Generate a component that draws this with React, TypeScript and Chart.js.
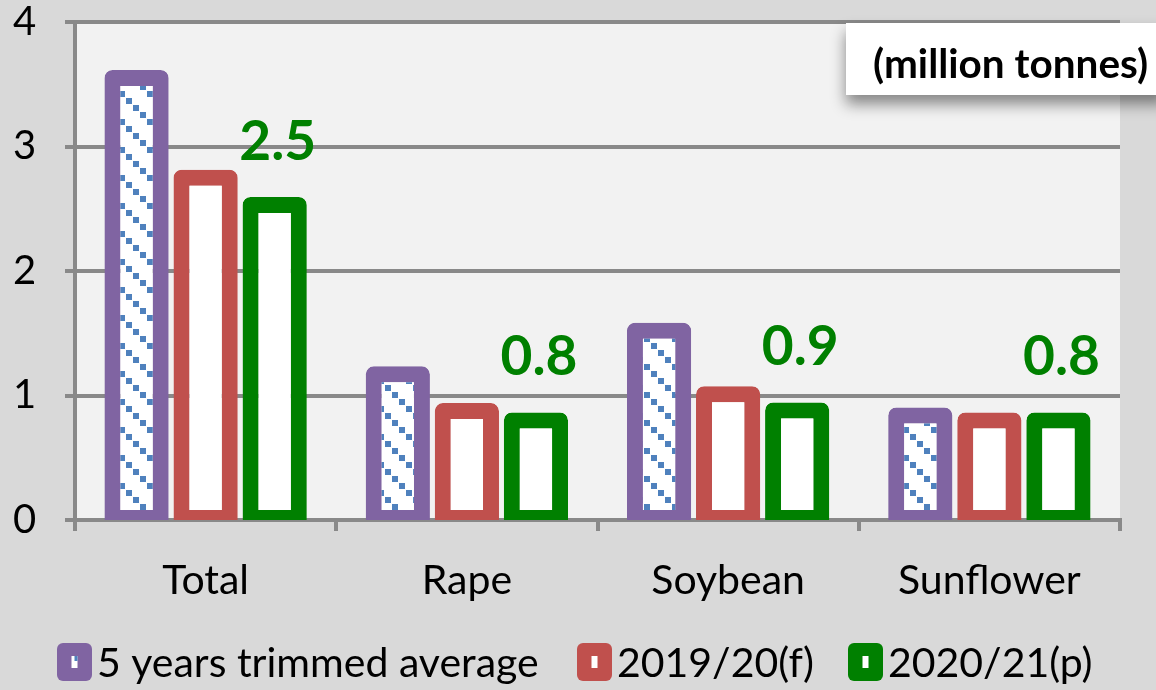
import React, { useEffect, useRef } from "react";
import { Chart, registerables } from "chart.js";

Chart.register(...registerables);

// ---- data ----
const categories = ["Total", "Rape", "Soybean", "Sunflower"];
const seriesNames = ["5 years trimmed average", "2019/20(f)", "2020/21(p)"];
const avgValues = [3.55, 1.17, 1.52, 0.84];
const f1920Values = [2.75, 0.875, 1.01, 0.8];
const p2021Values = [2.53, 0.8, 0.88, 0.8];
const yMin = 0;
const yMax = 4;
const yStep = 1;
const unitLabel = "(million tonnes)";

// ---- style ----
const PURPLE = "#8064a2";
const RED = "#c0504d";
const GREEN = "#008000";
const BLUE = "#4f81bd";
const GRID = "#898989";
const BORDER_W = 16;
const HALF = BORDER_W / 2;
const FONT = "Lato";

function makePattern(ctx: CanvasRenderingContext2D) {
  const c = document.createElement("canvas");
  c.width = 28;
  c.height = 28;
  const g = c.getContext("2d")!;
  g.fillStyle = "#ffffff";
  g.fillRect(0, 0, 28, 28);
  g.fillStyle = BLUE;
  for (let i = 0; i < 4; i++) g.fillRect(i * 7, i * 7, 6, 6);
  return ctx.createPattern(c, "repeat")!;
}

const plotBg = {
  id: "plotBg",
  beforeDraw(chart: any) {
    const { ctx, chartArea: a } = chart;
    ctx.save();
    ctx.fillStyle = "#f2f2f2";
    ctx.fillRect(a.left, a.top, a.right - a.left, a.bottom - a.top);
    ctx.restore();
  },
};

// Excel draws the outline centred on the bar edge: grow each bar by half the border
const barExpand = {
  id: "barExpand",
  afterDatasetsUpdate(chart: any) {
    chart.data.datasets.forEach((_: any, i: number) => {
      const meta = chart.getDatasetMeta(i);
      meta.data.forEach((el: any) => {
        el.y -= HALF;
        el.base += HALF;
      });
    });
  },
};

const valueLabels = {
  id: "valueLabels",
  afterDatasetsDraw(chart: any) {
    const { ctx } = chart;
    const meta = chart.getDatasetMeta(2);
    const ds = chart.data.datasets[2];
    ctx.save();
    ctx.font = `bold 55px ${FONT}`;
    ctx.fillStyle = GREEN;
    ctx.textAlign = "center";
    ctx.textBaseline = "alphabetic";
    meta.data.forEach((el: any, j: number) => {
      ctx.fillText(Number(ds.data[j]).toFixed(1), el.x + 3, el.y - 37);
    });
    ctx.restore();
  },
};

const unitBox = {
  id: "unitBox",
  afterDraw(chart: any) {
    const { ctx } = chart;
    ctx.save();
    ctx.shadowColor = "rgba(0,0,0,0.45)";
    ctx.shadowBlur = 14;
    ctx.shadowOffsetY = 9;
    ctx.shadowOffsetX = 0;
    ctx.fillStyle = "#ffffff";
    ctx.fillRect(846, 23, 320, 72);
    ctx.restore();
    ctx.save();
    ctx.font = `bold 40.5px ${FONT}`;
    ctx.fillStyle = "#000000";
    ctx.textAlign = "left";
    ctx.textBaseline = "alphabetic";
    ctx.fillText(unitLabel, 873, 78);
    ctx.restore();
  },
};

const legendPlugin = {
  id: "customLegend",
  afterDraw(chart: any) {
    const { ctx } = chart;
    const boxX = [57, 577, 848];
    const boxY = 643;
    const bw = 35;
    const bh = 38;
    ctx.save();
    chart.data.datasets.forEach((ds: any, i: number) => {
      const x = boxX[i];
      ctx.fillStyle = ds.borderColor;
      ctx.beginPath();
      (ctx as any).roundRect(x, boxY, bw, bh, 6);
      ctx.fill();
      ctx.fillStyle = "#ffffff";
      ctx.fillRect(x + bw / 2 - 3, boxY + bh / 2 - 6, 6, 12);
      if (i === 0) {
        ctx.fillStyle = BLUE;
        ctx.fillRect(x + bw / 2, boxY + bh / 2 - 6, 3, 5);
      }
      ctx.font = `41px ${FONT}`;
      ctx.fillStyle = "#000000";
      ctx.textAlign = "left";
      ctx.textBaseline = "alphabetic";
      ctx.fillText(ds.label, x + bw + 5, 677);
    });
    ctx.restore();
  },
};

export default function App() {
  const ref = useRef<HTMLCanvasElement>(null);

  useEffect(() => {
    const canvas = ref.current!;
    const ctx = canvas.getContext("2d")!;
    const pattern = makePattern(ctx);
    const common = {
      borderWidth: BORDER_W,
      borderSkipped: false as const,
      borderRadius: { topLeft: 8, topRight: 8, bottomLeft: 0, bottomRight: 0 },
      clip: 0,
      barPercentage: 0.93,
      categoryPercentage: 0.793,
    };
    const chart = new Chart(canvas, {
      type: "bar",
      data: {
        labels: categories,
        datasets: [
          { label: seriesNames[0], data: avgValues, backgroundColor: pattern as any, borderColor: PURPLE, ...common },
          { label: seriesNames[1], data: f1920Values, backgroundColor: "#ffffff", borderColor: RED, ...common },
          { label: seriesNames[2], data: p2021Values, backgroundColor: "#ffffff", borderColor: GREEN, ...common },
        ],
      },
      options: {
        responsive: false,
        animation: false,
        events: [],
        layout: { padding: { top: 22, right: 36, left: 13, bottom: 0 } },
        plugins: {
          legend: { display: false },
          tooltip: { enabled: false },
        },
        scales: {
          x: {
            offset: true,
            grid: {
              display: true,
              drawOnChartArea: false,
              drawTicks: true,
              tickLength: 11,
              offset: true,
              color: GRID,
              lineWidth: 4,
            },
            border: { display: true, color: GRID, width: 4 },
            ticks: {
              color: "#000000",
              font: { family: FONT, size: 41, lineHeight: 1 },
              padding: 29,
              maxRotation: 0,
            },
            afterFit: (s: any) => {
              s.height = 170;
            },
          },
          y: {
            min: yMin,
            max: yMax,
            grid: {
              color: GRID,
              lineWidth: 4,
              drawTicks: true,
              tickLength: 10,
            },
            border: { display: true, color: GRID, width: 4 },
            ticks: {
              stepSize: yStep,
              color: "#000000",
              font: { family: FONT, size: 40, lineHeight: 1 },
              padding: 0,
              crossAlign: "far",
            },
            afterFit: (s: any) => {
              s.width = 62;
            },
          },
        },
      },
      plugins: [plotBg, barExpand, valueLabels, unitBox, legendPlugin],
    });
    return () => chart.destroy();
  }, []);

  return (
    <div
      style={{
        position: "fixed",
        left: 0,
        top: 0,
        width: 1156,
        height: 690,
        background: "#d9d9d9",
      }}
    >
      <canvas ref={ref} width={1156} height={690} />
    </div>
  );
}
